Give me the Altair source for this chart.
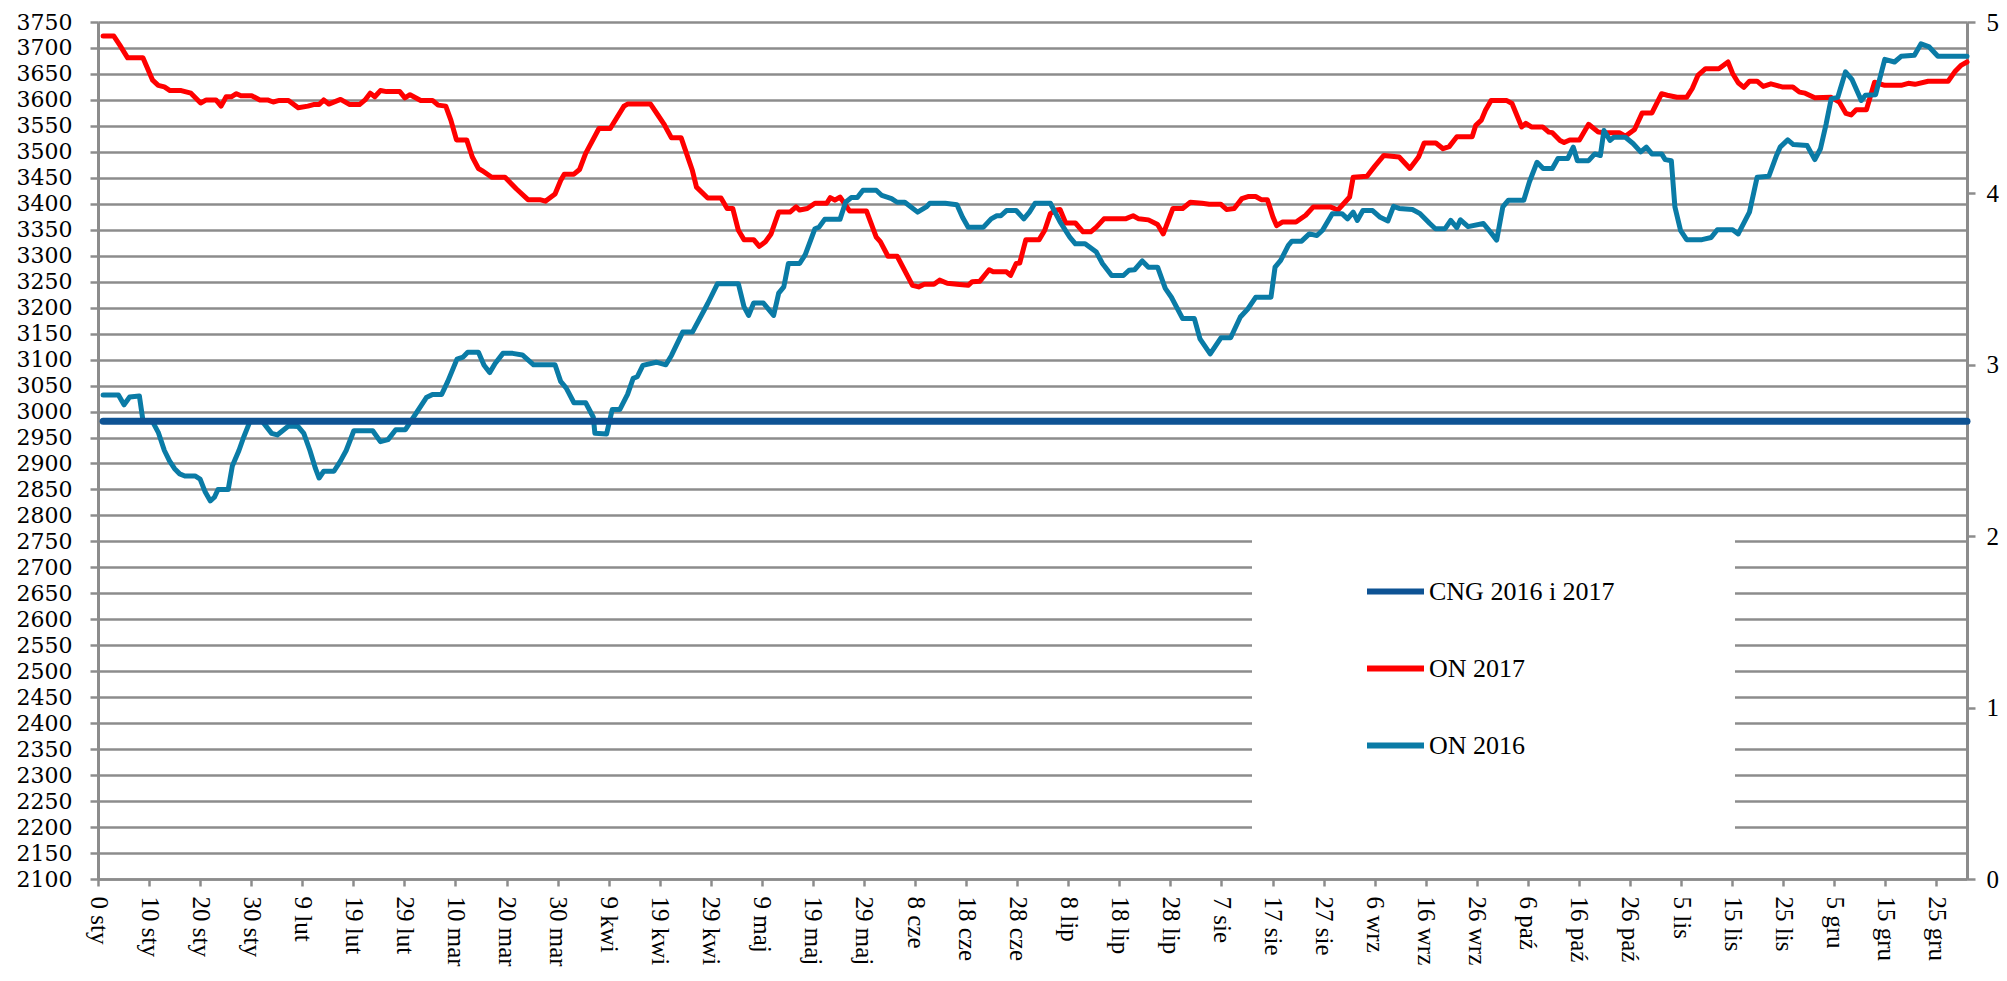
import altair as alt
import pandas as pd

# ---- data ----
SERIES = ["CNG 2016 i 2017", "ON 2017", "ON 2016"]
COLORS = ["#0E5394", "#FF0000", "#0A7BA6"]

TICK_DAYS = list(range(0, 361, 10))
TICK_LABELS = ["0 sty", "10 sty", "20 sty", "30 sty", "9 lut", "19 lut", "29 lut",
               "10 mar", "20 mar", "30 mar", "9 kwi", "19 kwi", "29 kwi", "9 maj",
               "19 maj", "29 maj", "8 cze", "18 cze", "28 cze", "8 lip", "18 lip",
               "28 lip", "7 sie", "17 sie", "27 sie", "6 wrz", "16 wrz", "26 wrz",
               "6 paź", "16 paź", "26 paź", "5 lis", "15 lis", "25 lis", "5 gru",
               "15 gru", "25 gru"]

LEFT_TICKS = list(range(2100, 3751, 50))
RIGHT_TICKS = [0, 1, 2, 3, 4, 5]

CNG_DAYS = [1, 366]
CNG_VALS = [2.67, 2.67]

ON2017_DAYS = [1, 3.1, 4.3, 5.8, 8.8, 10.7, 11.8, 13, 14.1, 16.3, 18.2, 20.1, 21.2, 23.1, 24.1, 25.1,
    26.1, 27.1, 28, 30.1, 31.7, 33.2, 34.3, 35.5, 37.3, 39.2, 41.1, 42.2, 43.3, 44.2, 45.2, 47.5,
    49.3, 51.2, 52.3, 53.3, 54.2, 55.3, 56.5, 59.1, 60.1, 61.1, 63.2, 65.5, 66.6, 68.1, 69.1, 70.2,
    72.2, 73.3, 74.5, 75.2, 77.1, 79.7, 81.9, 84.2, 86.5, 87.6, 89.5, 90.6, 91.3, 93.2, 94.3, 95.5,
    98.1, 100.3, 103, 103.7, 108.2, 109.7, 110.8, 112.3, 114.2, 115.7, 116.4, 117.2, 119.4, 122,
    123.2, 124.3, 125.4, 126.5, 128.4, 129.5, 130.7, 131.8, 133.3, 135.5, 136.7, 137.4, 138.9,
    140.4, 142.7, 143.4, 144.3, 145.3, 147.2, 150.5, 152.4, 153.2, 154.7, 156.5, 159.5, 160.7,
    161.8, 163.7, 164.8, 166.3, 168.2, 170.4, 171.2, 172.7, 174.5, 175.3, 177.9, 178.7, 179.8,
    180.5, 181.7, 184.3, 185.4, 186.5, 187.7, 188.4, 189.5, 191.4, 192.9, 194.4, 195.5, 197,
    201.2, 202.7, 203.8, 205.7, 207.5, 208.6, 210.5, 212.4, 213.9, 216.2, 217.6, 219.9, 221,
    222.5, 224, 225.2, 226.7, 227.8, 229, 230.1, 230.8, 232, 234.6, 236.5, 238, 241.3, 242.8,
    244, 245.1, 245.8, 248.5, 250, 251.8, 254.8, 256.9, 258.6, 259.7, 262, 263.4, 264.6, 266.1,
    269.1, 269.8, 270.9, 271.7, 272.8, 275.8, 276.9, 278.8, 279.6, 280.7, 282.9, 284.1, 284.8,
    286.3, 287.1, 288.2, 290.1, 291.9, 293.8, 294.9, 297.9, 299.1, 300.9, 302.4, 304.3, 306.2,
    307.3, 309.2, 311.1, 312.2, 313.3, 314.8, 317.4, 319.2, 320.1, 321.2, 322.3, 323.4, 324.9,
    326.1, 327.6, 328.7, 329.8, 331.9, 333.2, 334.3, 336.2, 339.4, 341, 342.3, 343.3, 344.3,
    346.3, 347.9, 349.9, 353.1, 354.5, 355.8, 358.4, 362.3, 363.6, 364.9, 366]
ON2017_VALS = [3723, 3723, 3705, 3681, 3681, 3638, 3628, 3625, 3618, 3618, 3613, 3594, 3600, 3600, 3588, 3606,
    3606, 3612, 3608, 3608, 3600, 3600, 3596, 3599, 3599, 3585, 3588, 3591, 3591, 3600, 3592, 3601,
    3591, 3591, 3600, 3613, 3606, 3618, 3616, 3616, 3604, 3610, 3599, 3599, 3590, 3588, 3561, 3523,
    3523, 3490, 3468, 3464, 3451, 3451, 3429, 3408, 3408, 3405, 3419, 3445, 3457, 3457, 3466, 3497,
    3545, 3545, 3588, 3592, 3592, 3570, 3554, 3527, 3527, 3484, 3464, 3432, 3411, 3411,
    3391, 3391, 3349, 3331, 3331, 3318, 3327, 3342, 3384, 3384, 3394, 3388, 3391,
    3401, 3401, 3412, 3407, 3413, 3386, 3386, 3336, 3327, 3299, 3299, 3243, 3240,
    3245, 3245, 3253, 3247, 3245, 3243, 3250, 3251, 3273, 3269, 3269, 3262, 3285,
    3286, 3331, 3331, 3349, 3381, 3388, 3389, 3363, 3363, 3346, 3346, 3355, 3371,
    3371, 3377, 3371, 3369, 3360, 3342, 3391, 3391, 3403, 3401, 3399, 3399, 3389,
    3391, 3410, 3414, 3414, 3408, 3408, 3374, 3358, 3365, 3365, 3378, 3394, 3394, 3388,
    3401, 3413, 3451, 3453, 3472, 3493, 3490, 3468, 3490, 3517, 3517, 3506, 3510, 3529,
    3529, 3551, 3561, 3580, 3599, 3599, 3593, 3548, 3555, 3548, 3548, 3538, 3537,
    3522, 3518, 3523, 3523, 3553, 3538, 3537, 3537, 3530, 3543, 3575, 3575, 3612,
    3609, 3605, 3605, 3622, 3647, 3660, 3660, 3673, 3651, 3633, 3624, 3636, 3636,
    3626, 3631, 3628, 3625, 3625, 3615, 3613, 3604, 3605, 3596, 3574, 3571, 3581,
    3581, 3634, 3628, 3628, 3632, 3630, 3636, 3636, 3654, 3667, 3673]

ON2016_DAYS = [1, 4, 5.1, 6.2, 8.1, 8.8, 10.7, 11.8, 13, 14, 15, 16, 17, 19, 20, 21, 22, 22.8, 23.5,
    25.5, 26.3, 27.6, 28.5, 29.8, 32.1, 34, 35.1, 37.3, 39.2, 40.3, 41.5, 42.6, 43.3, 44.2, 46.2,
    47.5, 48.6, 50.1, 53.8, 55.3, 56.8, 58.3, 60.2, 62.5, 64.3, 65.5, 67.3, 68.5, 70.3, 71.5, 72.4,
    74.5, 75.6, 76.7, 77.8, 79.3, 81.2, 83.1, 85.3, 89.5, 90.6, 91.7, 93.2, 95.5, 97, 97.3, 99.6,
    100.7, 102.2, 103.7, 104.8, 105.6, 106.7, 109.3, 111.2, 112.3, 114.5, 116.4, 118.7, 119.4,
    121.3, 125.4, 126.5, 127.4, 128.4, 130.3, 132.3, 133.3, 134.3, 135.2, 137.4, 138.5, 140.4,
    141.2, 142.3, 145.3, 146.4, 147.5, 148.7, 149.8, 152.4, 153.5, 155.4, 156.5, 158, 159.2,
    160.5, 162.2, 162.9, 165.9, 168.2, 169.3, 170.4, 173.4, 174.9, 176, 176.8, 177.9, 179.8,
    181.3, 182.4, 183.5, 186.5, 188.4, 190.3, 191.4, 193.3, 195.5, 196.7, 198.5, 200.8, 201.9,
    203, 204.5, 205.7, 207.5, 209, 210.2, 212.4, 214.7, 215.8, 217.8, 219.9, 221.8, 223.7, 225.2,
    226.7, 229.7, 230.5, 231.6, 233.1, 233.8, 235.7, 237.2, 238.7, 239.8, 241.7, 243.6, 244.7,
    245.8, 246.6, 247.7, 249.6, 251.1, 252.6, 253.7, 254.8, 257.4, 258.9, 260.8, 261.9, 263.8,
    264.9, 266.1, 266.8, 268.3, 271.3, 272.8, 273.9, 275.1, 276.2, 279.2, 280.3, 281.8, 283,
    284.8, 285.9, 287.8, 288.9, 289.7, 291.9, 293.1, 294.2, 294.9, 296.1, 296.8, 299.1, 300.6,
    302.1, 303.2, 304.3, 306.2, 306.9, 308.1, 308.8, 309.9, 311.1, 314.1, 315.9, 317.1, 320.1,
    321.2, 323.4, 324.9, 327.2, 328.7, 329.4, 330.9, 332, 334.7, 336.2, 337.3, 338.4, 339.4,
    340.7, 342.2, 343.5, 345.3, 346.1, 348.1, 349.9, 351.8, 353.1, 355.7, 357, 358.6, 360.3, 366]
ON2016_VALS = [3032, 3032, 3013, 3028, 3030, 2983, 2980, 2960, 2925, 2905, 2890, 2880, 2876, 2876, 2870, 2845, 2828, 2835, 2850,
    2850, 2895, 2925, 2950, 2982, 2982, 2958, 2955, 2972, 2971, 2958, 2925, 2890, 2872, 2885, 2885,
    2905, 2925, 2963, 2963, 2942, 2946, 2965, 2965, 3000, 3027, 3033, 3033, 3058, 3101, 3105, 3114,
    3114, 3089, 3075, 3093, 3112, 3112, 3109, 3090, 3090, 3058, 3045, 3017, 3017, 2989, 2958, 2957,
    3004, 3004, 3033, 3064, 3067, 3089, 3095, 3090, 3108, 3153, 3153, 3195, 3208,
    3246, 3246, 3202, 3185, 3209, 3209, 3185, 3228, 3240, 3285, 3285, 3302, 3352,
    3355, 3370, 3370, 3403, 3412, 3412, 3426, 3426, 3416, 3410, 3403, 3403, 3394,
    3384, 3394, 3401, 3401, 3398, 3374, 3355, 3355, 3371, 3377, 3377, 3387, 3387,
    3371, 3384, 3401, 3401, 3365, 3336, 3323, 3323, 3307, 3285, 3262, 3262, 3272,
    3273, 3290, 3278, 3278, 3237, 3220, 3179, 3179, 3140, 3111, 3142, 3142, 3182, 3198,
    3220, 3220, 3278, 3291, 3320, 3328, 3328, 3342, 3339, 3349, 3381, 3381, 3371,
    3384, 3368, 3387, 3387, 3374, 3367, 3395, 3391, 3389, 3381, 3362, 3352, 3352,
    3368, 3354, 3369, 3356, 3362, 3344, 3330, 3394, 3407, 3407, 3442, 3480, 3468,
    3468, 3487, 3487, 3509, 3483, 3483, 3496, 3493, 3541, 3522, 3528, 3528, 3516,
    3500, 3509, 3496, 3496, 3485, 3483, 3394, 3349, 3331, 3331, 3335, 3350, 3350,
    3342, 3384, 3451, 3453, 3493, 3509, 3523, 3514, 3512, 3485, 3506, 3553, 3602,
    3605, 3654, 3639, 3599, 3609, 3610, 3678, 3673, 3684, 3686, 3708, 3702, 3684, 3684]

# ---- tables ----
on_df = pd.concat([
    pd.DataFrame({"day": ON2017_DAYS, "value": ON2017_VALS, "series": SERIES[1]}),
    pd.DataFrame({"day": ON2016_DAYS, "value": ON2016_VALS, "series": SERIES[2]}),
])
cng_df = pd.DataFrame({"day": CNG_DAYS, "value": CNG_VALS, "series": SERIES[0]})

GRID = "#8c8c8c"
label_expr = "[" + ",".join("'%s'" % s for s in TICK_LABELS) + "][round(datum.value/10)]"

x_enc = alt.X("day:Q",
              scale=alt.Scale(domain=[0, 366], nice=False, zero=False),
              axis=alt.Axis(values=TICK_DAYS, labelExpr=label_expr, labelAngle=90,
                            labelFont="Liberation Serif", labelFontSize=25, labelColor="black",
                            labelPadding=10, labelOverlap=False, labelFlush=False,
                            tickSize=7, tickColor=GRID, tickWidth=2.5,
                            domainColor=GRID, domainWidth=2.5, grid=False, title=None))

color_enc = alt.Color("series:N",
                      scale=alt.Scale(domain=SERIES, range=COLORS),
                      title=None,
                      legend=alt.Legend(orient="none", legendX=1266, legendY=538,
                                        symbolType="stroke", symbolSize=3249,
                                        symbolStrokeWidth=6, labelFont="Liberation Serif",
                                        labelFontSize=26, labelColor="black", labelLimit=500,
                                        rowPadding=32, labelOffset=2, padding=0,
                                        direction="vertical"))

box = alt.Chart(pd.DataFrame({"k": [0]})).mark_rect(color="white").encode(
    x=alt.value(1154), x2=alt.value(1637), y=alt.value(503), y2=alt.value(818))

on_lines = alt.Chart(on_df).mark_line(strokeWidth=5, strokeJoin="round", strokeCap="round").encode(
    x=x_enc,
    y=alt.Y("value:Q",
            scale=alt.Scale(domain=[2100, 3750], nice=False, zero=False),
            axis=alt.Axis(orient="left", values=LEFT_TICKS, format="d", labelFont="DejaVu Serif",
                          labelFontSize=22, labelColor="black", labelPadding=18,
                          labelOverlap=False, labelFlush=False,
                          tickSize=8, tickColor=GRID, tickWidth=2.5,
                          domainColor=GRID, domainWidth=3,
                          grid=True, gridColor=GRID, gridWidth=2.5, title=None)),
    color=color_enc,
)

cng_line = alt.Chart(cng_df).mark_line(strokeWidth=7, strokeCap="round").encode(
    x=alt.X("day:Q"),
    y=alt.Y("value:Q",
            scale=alt.Scale(domain=[0, 5], nice=False, zero=True),
            axis=alt.Axis(orient="right", values=RIGHT_TICKS, format="d", labelFont="Liberation Serif",
                          labelFontSize=25, labelColor="black", labelPadding=11,
                          labelOverlap=False, labelFlush=False,
                          tickSize=8, tickColor=GRID, tickWidth=2.5,
                          domainColor=GRID, domainWidth=3, grid=False, title=None)),
    color=color_enc,
)

chart = alt.layer(box, on_lines, cng_line).resolve_scale(y="independent").properties(
    width=1869, height=857,
    autosize=alt.AutoSizeParams(type="none"),
    padding={"left": 90, "top": 14, "right": 32, "bottom": 89},
    background="white",
).configure_view(strokeWidth=0)

chart.save("out.html", embed_options={"renderer": "svg", "actions": False})
